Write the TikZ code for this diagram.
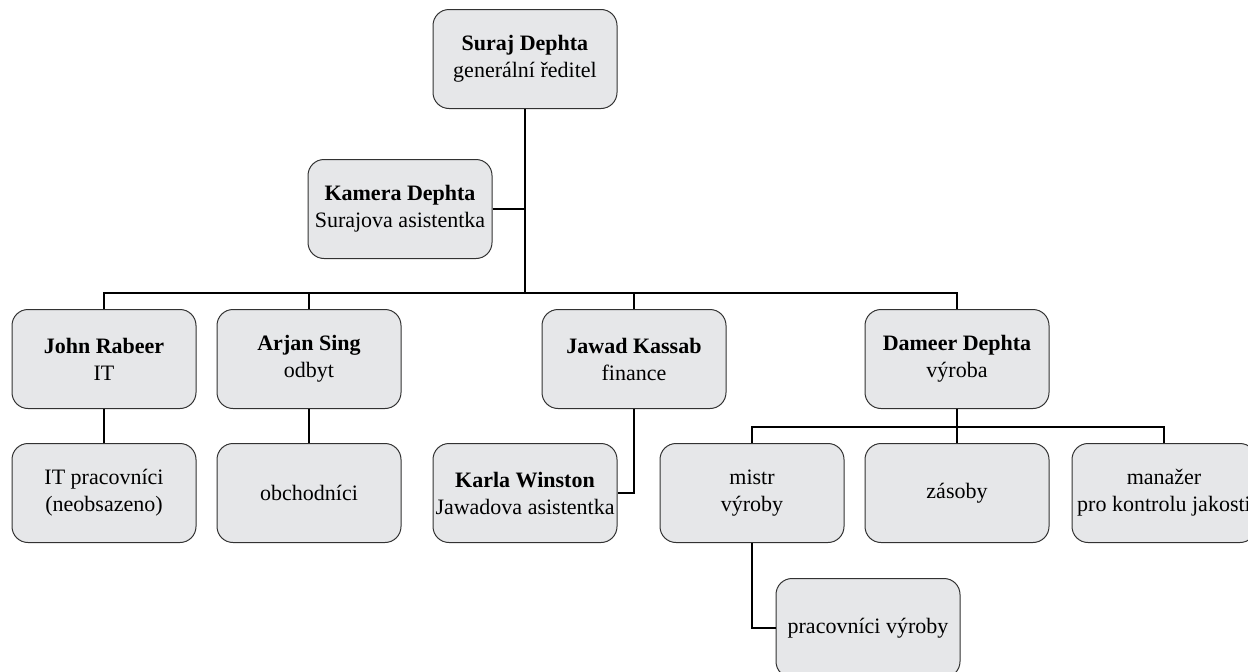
\documentclass[tikz,border=0pt]{standalone}
\usepackage{fontspec}
\setmainfont{Liberation Serif}
\definecolor{boxfill}{RGB}{230,231,233}
\definecolor{boxline}{RGB}{50,50,50}
\tikzset{
  person/.style={draw=boxline, fill=boxfill, line width=1pt, rounded corners=16pt,
    minimum width=184pt, minimum height=99pt, inner sep=2pt, align=center,
    font=\fontsize{22}{27}\selectfont},
  link/.style={draw=black, line width=1.8pt}
}
\begin{document}
\begin{tikzpicture}[x=1pt, y=-1pt]
      \useasboundingbox (0,0) rectangle (1248,672);
      \node[person] (suraj) at (525,59) {\textbf{Suraj Dephta}\\generální ředitel};
      \node[person] (kamera) at (400,209) {\textbf{Kamera Dephta}\\Surajova asistentka};
      \node[person] (john) at (104,359) {\textbf{John Rabeer}\\IT};
      \node[person] (arjan) at (309,359) {\textbf{Arjan Sing}\\odbyt};
      \node[person] (jawad) at (634,359) {\textbf{Jawad Kassab}\\finance};
      \node[person] (dameer) at (957,359) {\textbf{Dameer Dephta}\\výroba};
      \node[person] (itstaff) at (104,493) {IT pracovníci\\(neobsazeno)};
      \node[person] (sales) at (309,493) {obchodníci};
      \node[person] (karla) at (525,493) {\textbf{Karla Winston}\\Jawadova asistentka};
      \node[person] (mistr) at (752,493) {mistr\\výroby};
      \node[person] (zasoby) at (957,493) {zásoby};
      \node[person] (kvalita) at (1164,493) {manažer\\pro kontrolu jakosti};
      \node[person] (workers) at (868,628) {pracovníci výroby};
      \coordinate (hub) at (525,293);
      \coordinate (hubb) at (957,427);
      \begin{scope}[link]
        \draw (suraj.south) to (hub);
        \draw (kamera.east) to (kamera.east -| hub);
        \draw (john.north) |- (hub) -| (dameer.north);
        \draw (arjan.north) to (arjan.north |- hub);
        \draw (jawad.north) to (jawad.north |- hub);
        \draw (john.south) to (itstaff.north);
        \draw (arjan.south) to (sales.north);
        \draw (jawad.south) |- (karla.east);
        \draw (dameer.south) to (hubb);
        \draw (mistr.north) |- (hubb) -| (kvalita.north);
        \draw (zasoby.north) to (hubb);
        \draw (mistr.south) |- (workers.west);
      \end{scope}
    \end{tikzpicture}
\end{document}
